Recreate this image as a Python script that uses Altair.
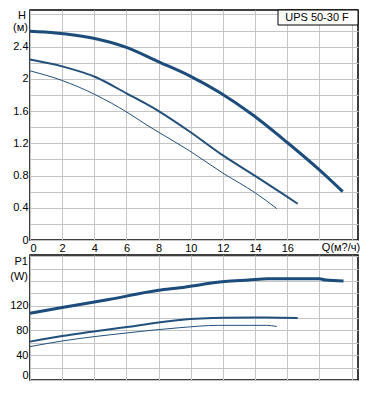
import altair as alt
import pandas as pd

# ---- data ----
speeds = ["max", "mid", "min"]

q_h_max = [0, 1.6, 3.8, 6.0, 7.9, 9.9, 11.8, 13.8, 16.0, 18.0, 19.45]
h_max = [2.59, 2.57, 2.51, 2.39, 2.22, 2.04, 1.83, 1.56, 1.21, 0.87, 0.60]

q_h_mid = [0, 2.0, 4.1, 6.0, 8.0, 9.9, 12.0, 14.05, 15.7, 16.65]
h_mid = [2.24, 2.155, 2.02, 1.82, 1.60, 1.35, 1.05, 0.79, 0.575, 0.45]

q_h_min = [0, 2.0, 4.1, 6.0, 7.4, 9.9, 12.0, 14.05, 15.35]
h_min = [2.10, 1.98, 1.80, 1.59, 1.41, 1.11, 0.83, 0.58, 0.39]

q_p_max = [0, 2.0, 4.9, 8.0, 9.3, 12.1, 13.6, 14.8, 18.0, 18.4, 19.5]
p_max = [108, 117, 130, 145, 149, 159, 161.5, 163.5, 163.5, 161.5, 160]

q_p_mid = [0, 2.0, 6.0, 9.3, 12.1, 14.7, 16.65]
p_mid = [62, 71, 85.5, 97, 100.5, 101, 100]

q_p_min = [0, 2.0, 6.0, 9.3, 11.7, 14.7, 15.35]
p_min = [54, 63, 76, 84.5, 88.3, 88.3, 86.5]

x_ticks = [0, 2, 4, 6, 8, 10, 12, 14, 16, 18, 20]
h_ticks = [0, 0.2, 0.4, 0.6, 0.8, 1.0, 1.2, 1.4, 1.6, 1.8, 2.0, 2.2, 2.4, 2.6, 2.8]
p_ticks = [0, 20, 40, 60, 80, 100, 120, 140, 160, 180, 200]

h_labels = ["H", "(м)"]
p_labels = ["P1", "(W)"]
q_label = ["Q(м?/ч)"]
model_label = ["UPS 50-30 F"]


def frame(q, v, s):
    return pd.DataFrame({"q": q, "v": v, "speed": s})


h_df = pd.concat([frame(q_h_max, h_max, "max"), frame(q_h_mid, h_mid, "mid"),
                  frame(q_h_min, h_min, "min")], ignore_index=True)
p_df = pd.concat([frame(q_p_max, p_max, "max"), frame(q_p_mid, p_mid, "mid"),
                  frame(q_p_min, p_min, "min")], ignore_index=True)

W = 328
H_TOP = 230
H_BOT = 125
FONT = "Liberation Sans"
GRID = "#c4c4c4"

color = alt.Color("speed:N", scale=alt.Scale(domain=speeds, range=["#1b4c7c", "#22507c", "#22507c"]), legend=None)
width = alt.StrokeWidth("speed:N", scale=alt.Scale(domain=speeds, range=[3, 1.0, 1.0]), legend=None)
x_scale = alt.Scale(domain=[0, 20.4], nice=False, zero=False)

top_lines = alt.Chart(h_df).mark_line(interpolate="monotone").encode(
    x=alt.X("q:Q", scale=x_scale, title=None,
            axis=alt.Axis(values=x_ticks, format="d", labelExpr="datum.value <= 16 ? datum.label : ''",
                          grid=True, labelPadding=2)),
    y=alt.Y("v:Q", scale=alt.Scale(domain=[0, 2.855], nice=False), title=None,
            axis=alt.Axis(values=h_ticks, format="~g",
                          labelExpr="indexof(['0','0.4','0.8','1.2','1.6','2','2.4'], datum.label) >= 0 ? datum.label : ''",
                          grid=True, labelPadding=2)),
    color=color, strokeWidth=width, detail="speed:N",
)

def txt(labels, x, y, align="right", size=11):
    return alt.Chart(pd.DataFrame({"t": labels})).mark_text(
        align=align, baseline="middle", font=FONT, fontSize=size, color="black"
    ).encode(text="t:N", x=alt.value(x), y=alt.value(y))

box = alt.Chart(pd.DataFrame({"t": model_label})).mark_rect(
    fill="white", stroke="black", strokeWidth=1
).encode(x=alt.value(248), x2=alt.value(W), y=alt.value(0), y2=alt.value(15))

top = alt.layer(
    top_lines,
    box,
    txt(model_label, 287, 7.5, align="center"),
    txt([h_labels[0]], -4, 6),
    txt([h_labels[1]], -2, 18),
    txt(q_label, 311, H_TOP + 8, align="center"),
).properties(width=W, height=H_TOP)

bot_lines = alt.Chart(p_df).mark_line(interpolate="monotone").encode(
    x=alt.X("q:Q", scale=x_scale, title=None,
            axis=alt.Axis(values=x_ticks, labels=False, grid=True)),
    y=alt.Y("v:Q", scale=alt.Scale(domain=[0, 202], nice=False), title=None,
            axis=alt.Axis(values=p_ticks, format="d",
                          labelExpr="datum.value <= 120 && datum.value % 40 == 0 ? datum.label : ''",
                          grid=True, labelPadding=2, labelFlush=True)),
    color=color, strokeWidth=width, detail="speed:N",
)

bottom = alt.layer(
    bot_lines,
    txt([p_labels[0]], -2, 7),
    txt([p_labels[1]], -2, 22),
).properties(width=W, height=H_BOT)

chart = alt.vconcat(top, bottom, spacing=15, bounds="flush").properties(
    padding={"top": 0, "left": 0, "right": 0, "bottom": 0}
).configure_view(
    stroke="black", strokeWidth=1.5
).configure_axis(
    labelFont=FONT, labelFontSize=11, labelColor="black", gridColor=GRID, gridWidth=1,
    domain=False, ticks=False, tickSize=0
)

chart.save("out.html", embed_options={"renderer": "svg", "actions": False})
